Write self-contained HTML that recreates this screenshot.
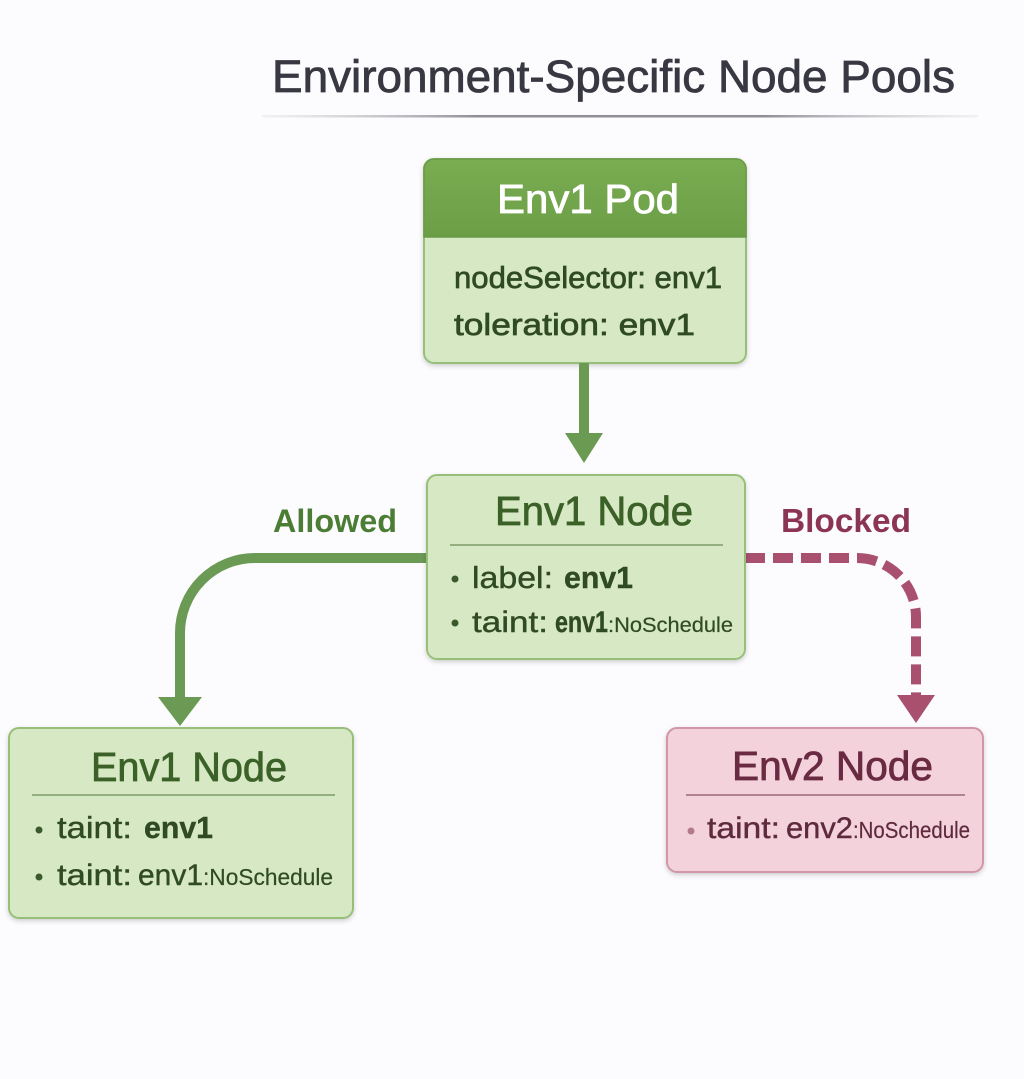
<!DOCTYPE html>
<html>
<head>
<meta charset="utf-8">
<style>
html,body{margin:0;padding:0;background:#fcfbfd;}
body{width:1024px;height:1079px;overflow:hidden;}
svg{display:block;}
text{font-family:"Liberation Sans","DejaVu Sans",sans-serif;}
</style>
</head>
<body>
<svg width="1024" height="1079" viewBox="0 0 1024 1079" xmlns="http://www.w3.org/2000/svg">
  <defs>
    <linearGradient id="ul" x1="0" x2="1" y1="0" y2="0">
      <stop offset="0" stop-color="#c8c8cc" stop-opacity="0.2"/>
      <stop offset="0.3" stop-color="#8f8f96"/>
      <stop offset="0.7" stop-color="#8f8f96"/>
      <stop offset="1" stop-color="#c8c8cc" stop-opacity="0.2"/>
    </linearGradient>
    <linearGradient id="hdr" x1="0" x2="0" y1="0" y2="1">
      <stop offset="0" stop-color="#7aac52"/>
      <stop offset="1" stop-color="#6c9e46"/>
    </linearGradient>
    <filter id="sh" x="-10%" y="-10%" width="120%" height="130%">
      <feDropShadow dx="0" dy="2" stdDeviation="2.5" flood-color="#000" flood-opacity="0.18"/>
    </filter>
  </defs>

  <rect width="1024" height="1079" fill="#fcfbfd"/>

  <!-- Title -->
  <text x="272" y="92" font-size="45" fill="#383843" stroke="#383843" stroke-width="0.8" textLength="683" lengthAdjust="spacingAndGlyphs">Environment-Specific Node Pools</text>
  <rect x="262" y="115" width="716" height="2.5" fill="url(#ul)"/>

  <!-- Pod box -->
  <g filter="url(#sh)">
    <rect x="424" y="159" width="322" height="204" rx="10" fill="#d7e9c4" stroke="#97bf7a" stroke-width="2"/>
  </g>
  <path d="M424 237 V169 A10 10 0 0 1 434 159 H736 A10 10 0 0 1 746 169 V237 Z" fill="url(#hdr)" stroke="#6a9a46" stroke-width="1.5"/>
  <text x="497" y="213" font-size="41" fill="#ffffff" stroke="#ffffff" stroke-width="0.8" textLength="182" lengthAdjust="spacingAndGlyphs">Env1 Pod</text>
  <text x="454" y="288" font-size="31" fill="#2f4a25" stroke="#2f4a25" stroke-width="0.7" textLength="268" lengthAdjust="spacingAndGlyphs">nodeSelector: env1</text>
  <text x="454" y="335" font-size="31" fill="#2f4a25" stroke="#2f4a25" stroke-width="0.7" textLength="241" lengthAdjust="spacingAndGlyphs">toleration: env1</text>

  <!-- Pod arrow -->
  <line x1="584" y1="363" x2="584" y2="436" stroke="#6b9b52" stroke-width="10"/>
  <polygon points="565,433 603,433 584,463" fill="#6b9b52"/>

  <!-- Allowed connector -->
  <path d="M430 558 H255 A75 75 0 0 0 180 633 V699" fill="none" stroke="#6b9a55" stroke-width="10"/>
  <polygon points="158,697 202,697 180,726" fill="#6b9a55"/>
  <text x="273" y="532" font-size="32" font-weight="bold" fill="#4b7d35" textLength="124" lengthAdjust="spacingAndGlyphs">Allowed</text>

  <!-- Blocked connector -->
  <path d="M745 558 H857 A59 59 0 0 1 916 617 V697" fill="none" stroke="#a9506f" stroke-width="10" stroke-dasharray="20 8"/>
  <polygon points="897,695 935,695 916,723" fill="#a9506f"/>
  <text x="781" y="532" font-size="33" font-weight="bold" fill="#8b3553" textLength="130" lengthAdjust="spacingAndGlyphs">Blocked</text>

  <!-- Middle Env1 Node -->
  <g filter="url(#sh)">
    <rect x="427" y="475" width="318" height="184" rx="10" fill="#d7e9c4" stroke="#97bf7a" stroke-width="2"/>
  </g>
  <text x="495" y="525" font-size="41" fill="#3b6128" stroke="#3b6128" stroke-width="0.8" textLength="198" lengthAdjust="spacingAndGlyphs">Env1 Node</text>
  <line x1="450" y1="545" x2="723" y2="545" stroke="#7e9a6a" stroke-width="1.5"/>
  <circle cx="455" cy="579" r="3.5" fill="#3b5a2c"/>
  <text y="588" font-size="31" fill="#2f4a25" stroke="#2f4a25" stroke-width="0.4">
    <tspan x="472" textLength="81" lengthAdjust="spacingAndGlyphs">label:</tspan>
    <tspan x="564" font-weight="bold" textLength="69" lengthAdjust="spacingAndGlyphs">env1</tspan>
  </text>
  <circle cx="455" cy="623" r="3.5" fill="#3b5a2c"/>
  <text y="632" font-size="30" fill="#2f4a25" stroke="#2f4a25" stroke-width="0.4">
    <tspan x="472" textLength="76" lengthAdjust="spacingAndGlyphs">taint:</tspan>
    <tspan x="555" font-weight="bold" textLength="53" lengthAdjust="spacingAndGlyphs">env1</tspan>
    <tspan x="608" font-size="21" stroke-width="0.2" textLength="125" lengthAdjust="spacingAndGlyphs">:NoSchedule</tspan>
  </text>

  <!-- Bottom-left Env1 Node -->
  <g filter="url(#sh)">
    <rect x="9" y="728" width="344" height="190" rx="10" fill="#d7e9c4" stroke="#97bf7a" stroke-width="2"/>
  </g>
  <text x="91" y="781" font-size="41" fill="#3b6128" stroke="#3b6128" stroke-width="0.8" textLength="196" lengthAdjust="spacingAndGlyphs">Env1 Node</text>
  <line x1="32" y1="795" x2="335" y2="795" stroke="#7e9a6a" stroke-width="1.5"/>
  <circle cx="39" cy="830" r="3.5" fill="#3b5a2c"/>
  <text y="838" font-size="31" fill="#2f4a25" stroke="#2f4a25" stroke-width="0.4">
    <tspan x="57" textLength="75" lengthAdjust="spacingAndGlyphs">taint:</tspan>
    <tspan x="144" font-weight="bold" textLength="69" lengthAdjust="spacingAndGlyphs">env1</tspan>
  </text>
  <circle cx="39" cy="877" r="3.5" fill="#3b5a2c"/>
  <text y="885" font-size="30" fill="#2f4a25" stroke="#2f4a25" stroke-width="0.4">
    <tspan x="57" textLength="75" lengthAdjust="spacingAndGlyphs">taint:</tspan>
    <tspan x="138" textLength="65" lengthAdjust="spacingAndGlyphs">env1</tspan>
    <tspan x="203" font-size="23" stroke-width="0.2" textLength="130" lengthAdjust="spacingAndGlyphs">:NoSchedule</tspan>
  </text>

  <!-- Bottom-right Env2 Node -->
  <g filter="url(#sh)">
    <rect x="667" y="728" width="316" height="144" rx="10" fill="#f3d2dc" stroke="#cf97a8" stroke-width="2"/>
  </g>
  <text x="732" y="780" font-size="41" fill="#6a2b42" stroke="#6a2b42" stroke-width="0.8" textLength="201" lengthAdjust="spacingAndGlyphs">Env2 Node</text>
  <line x1="686" y1="795" x2="965" y2="795" stroke="#9a6a78" stroke-width="1.5"/>
  <circle cx="691" cy="831" r="3.5" fill="#b27a8c"/>
  <text y="838" font-size="30" fill="#5e2a3d" stroke="#5e2a3d" stroke-width="0.4">
    <tspan x="707" textLength="73" lengthAdjust="spacingAndGlyphs">taint:</tspan>
    <tspan x="786" textLength="67" lengthAdjust="spacingAndGlyphs">env2</tspan>
    <tspan x="853" font-size="23" stroke-width="0.2" textLength="117" lengthAdjust="spacingAndGlyphs">:NoSchedule</tspan>
  </text>
</svg>
</body>
</html>
